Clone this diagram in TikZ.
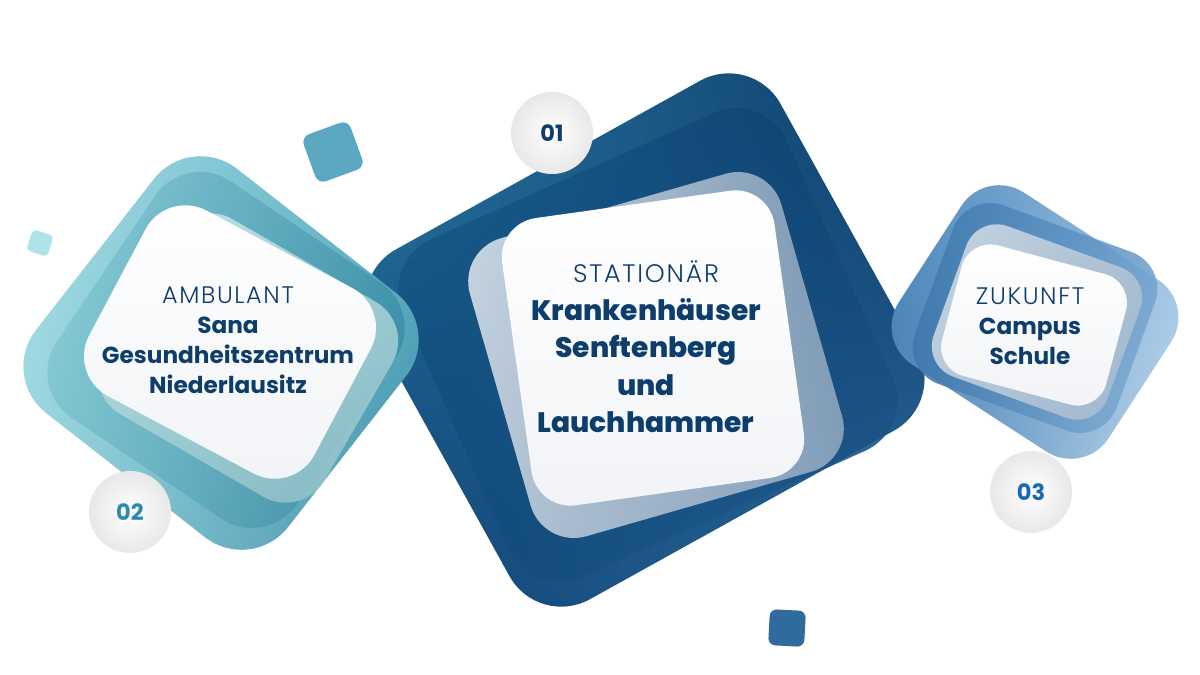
\documentclass[tikz,border=0pt]{standalone}
\usepackage{fontspec}
\setmainfont{Poppins}[BoldFont=* Bold]
\newfontfamily\thinfont{Poppins Light}[LetterSpace=7]
\newfontfamily\heavyfont{Poppins ExtraBold}
\usetikzlibrary{shadings}
\definecolor{navy}{HTML}{0D3D6B}
% middle stack
\definecolor{midA}{HTML}{2C7BA6}\definecolor{midB}{HTML}{093764}\definecolor{midC}{HTML}{0B3F6F}\definecolor{midD}{HTML}{2F6CA0}
\definecolor{midE}{HTML}{1A5F8E}\definecolor{midF}{HTML}{0B3C6A}\definecolor{midG}{HTML}{0C4575}\definecolor{midH}{HTML}{265F94}
\definecolor{midI}{HTML}{DCE4EC}\definecolor{midJ}{HTML}{7E9AB6}\definecolor{midK}{HTML}{C5D2DE}\definecolor{midL}{HTML}{8DA6BF}
% left stack
\definecolor{lftA}{HTML}{ADE1E8}\definecolor{lftB}{HTML}{5DB0C4}\definecolor{lftC}{HTML}{9CD8E0}\definecolor{lftD}{HTML}{3A8AA4}
\definecolor{lftE}{HTML}{8FD0DA}\definecolor{lftF}{HTML}{3E93AC}\definecolor{lftG}{HTML}{7CC4CF}\definecolor{lftH}{HTML}{2F819C}
\definecolor{lftI}{HTML}{D4EEF0}\definecolor{lftJ}{HTML}{B6DCE0}\definecolor{lftK}{HTML}{9CCBD0}\definecolor{lftL}{HTML}{8DBCC4}
% right stack
\definecolor{rgtA}{HTML}{4F88BA}\definecolor{rgtB}{HTML}{9CC2E3}\definecolor{rgtC}{HTML}{3E7BB0}\definecolor{rgtD}{HTML}{C6DEF1}
\definecolor{rgtE}{HTML}{3A76AD}\definecolor{rgtF}{HTML}{6D9FCC}\definecolor{rgtG}{HTML}{3B75AA}\definecolor{rgtH}{HTML}{8EB7DA}
\definecolor{rgtI}{HTML}{D5DFE9}\definecolor{rgtJ}{HTML}{B3C4D5}\definecolor{rgtK}{HTML}{C2D0DD}\definecolor{rgtL}{HTML}{9FB6CC}
% bits
\definecolor{paper}{HTML}{F1F3F6}
\definecolor{sqA}{HTML}{5AA8C1}\definecolor{sqB}{HTML}{AEE3E9}\definecolor{sqC}{HTML}{2F6B9C}
\definecolor{numB}{HTML}{2B8BA8}\definecolor{numC}{HTML}{1769B1}
\begin{document}
\begin{tikzpicture}[x=0.025cm,y=-0.025cm,
  tile/.style={rounded corners=#1},
  sidetext/.style={align=center,text=navy,font=\bfseries\fontsize{16.5}{21.3}\selectfont},
  maintext/.style={align=center,text=navy,font=\heavyfont\fontsize{20}{26.6}\selectfont},
  badge/.style={circle,minimum size=2.05cm,inner sep=0pt,inner color=white,outer color=black!9,font=\bfseries\fontsize{16}{16}\selectfont}]
\useasboundingbox (0,0) rectangle (1200,675);
% middle stack
\shade[tile=42pt,rotate around={29:(645,340)},upper left=midA,upper right=midB,lower left=midC,lower right=midD] (412,140) rectangle (878,540);
\shade[tile=39pt,rotate around={24:(648,345)},fill opacity=0.9,upper left=midE,upper right=midF,lower left=midG,lower right=midH] (438,160) rectangle (858,530);
\shade[tile=32pt,rotate around={16:(656,355)},fill opacity=0.92,upper left=midI,upper right=midJ,lower left=midK,lower right=midL] (494,200) rectangle (818,510);
\shade[tile=28pt,rotate around={8:(653,348)},top color=white,bottom color=paper] (515.5,203) rectangle (790.5,493);
\node[maintext] (stationaer) at (646,347) {{\thinfont\mdseries\fontsize{18}{26.6}\selectfont STATIONÄR}\\Krankenhäuser\\Senftenberg\\und\\Lauchhammer};
% left stack
\shade[tile=42pt,rotate around={-38:(221,353)},upper left=lftA,upper right=lftB,lower left=lftC,lower right=lftD] (61,198) rectangle (381,508);
\shade[tile=39pt,rotate around={-34:(226,350)},fill opacity=0.85,upper left=lftE,upper right=lftF,lower left=lftG,lower right=lftH] (81,207.5) rectangle (371,492.5);
\shade[tile=32pt,rotate around={-30:(248,358)},fill opacity=0.85,upper left=lftI,upper right=lftJ,lower left=lftK,lower right=lftL] (120.5,245.5) rectangle (375.5,470.5);
\shade[tile=32pt,rotate around={-28:(230,342)},top color=white,bottom color=paper] (102.5,237) rectangle (357.5,447);
\node[sidetext] (ambulant) at (228,340) {{\thinfont\mdseries\fontsize{17}{21.3}\selectfont AMBULANT}\\Sana\\Gesundheitszentrum\\Niederlausitz};
% right stack
\shade[tile=32pt,rotate around={-33:(1035,322)},upper left=rgtA,upper right=rgtB,lower left=rgtC,lower right=rgtD] (910,219.5) rectangle (1160,424.5);
\shade[tile=28pt,rotate around={-20:(1035,318)},fill opacity=0.9,upper left=rgtE,upper right=rgtF,lower left=rgtG,lower right=rgtH] (927.5,223) rectangle (1142.5,413);
\shade[tile=23pt,rotate around={-20:(1037,322)},fill opacity=0.9,upper left=rgtI,upper right=rgtJ,lower left=rgtK,lower right=rgtL] (944.5,242) rectangle (1129.5,402);
\shade[tile=21pt,rotate around={-15:(1034,325)},top color=white,bottom color=paper] (949,257.5) rectangle (1119,392.5);
\node[sidetext] (zukunft) at (1030,326) {{\thinfont\mdseries\fontsize{17}{21.3}\selectfont ZUKUNFT}\\Campus\\Schule};
% small squares
\fill[tile=6pt,rotate around={20:(333,152)},sqA] (308,127) rectangle (358,177);
\fill[tile=3pt,rotate around={-18:(40,243)},sqB] (29,232) rectangle (51,254);
\fill[tile=5pt,rotate around={-3:(787,628)},sqC] (769,610) rectangle (805,646);
% numbers
\node[badge,text=navy] (n01) at (552,133) {01};
\node[badge,text=numB] (n02) at (130,512) {02};
\node[badge,text=numC] (n03) at (1031,492) {03};
\end{tikzpicture}
\end{document}
